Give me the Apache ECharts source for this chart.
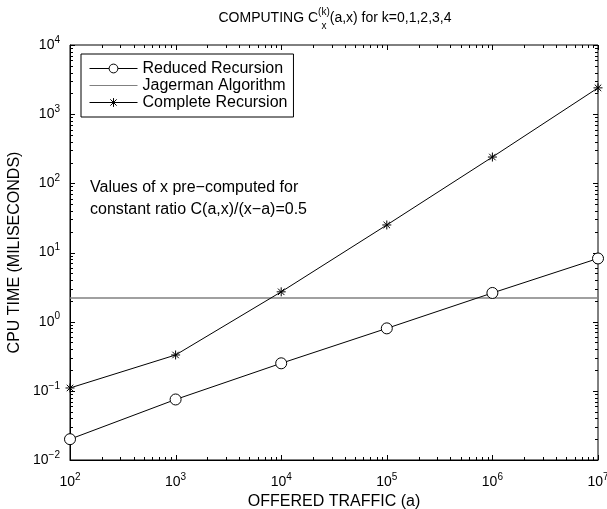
<!DOCTYPE html>
<html>
<head>
<meta charset="utf-8">
<script src="https://cdn.jsdelivr.net/npm/echarts@6/dist/echarts.min.js"></script>
<style>html,body{margin:0;padding:0;background:#fff}#c{width:607px;height:509px}</style>
</head>
<body>
<div id="c"></div>
<script>
// ---- data ----
const traffic = [1e2, 1e3, 1e4, 1e5, 1e6, 1e7];
const reducedRecursion = [0.020, 0.075, 0.25, 0.80, 2.6, 8.2];
const completeRecursion = [0.11, 0.33, 2.7, 25, 240, 2400];
const jagermanTraffic = [1e2, 1e7];
const jagermanValues = [2.2, 2.2];
const seriesNames = ['Reduced Recursion', 'Jagerman Algorithm', 'Complete Recursion'];
const xExponents = [2, 3, 4, 5, 6, 7];
const yExponents = [-2, -1, 0, 1, 2, 3, 4];
const noteLines = ['Values of x pre\u2212computed for', 'constant ratio C(a,x)/(x\u2212a)=0.5'];

const FONT = '"Liberation Sans", Arial, Helvetica, sans-serif';
const chart = echarts.init(document.getElementById('c'), null, {renderer: 'canvas'});

function pairs(xs, ys) { return xs.map((x, i) => [x, ys[i]]); }
function expLabel(v) {
  const e = Math.round(Math.log10(v));
  return '{b|10}{s|' + (e < 0 ? '\u2212' + (-e) : e) + '}';
}
const labelRich = {
  b: {fontSize: 14, fontFamily: FONT, color: '#000'},
  s: {fontSize: 10, fontFamily: FONT, color: '#000', padding: [0, 0, 10, 0]}
};

const asterisk = 'path://M0,-5L0,5M-5,0L5,0M-3.6,-3.6L3.6,3.6M-3.6,3.6L3.6,-3.6';

// measure title pieces
const mc = document.createElement('canvas').getContext('2d');
function tw(t, s) { mc.font = s + 'px ' + FONT; return mc.measureText(t).width; }
const t1 = 'COMPUTING C', t2 = '(k)', t3 = '(a,x) for k=0,1,2,3,4';
const TS = 14, TSS = 10;
const w1 = tw(t1, TS), w2 = tw(t2, TSS), w3 = tw(t3, TS);
const tStart = 335 - (w1 + w2 + w3) / 2;

function tickRender(params, api) {
  const cs = params.coordSys;
  const left = cs.x, right = cs.x + cs.width, top = cs.y, bottom = cs.y + cs.height;
  const ch = [];
  const st = {stroke: '#000', lineWidth: 1};
  const xMin = Math.pow(10, xExponents[0]), yMin = Math.pow(10, yExponents[0]);
  for (let i = 0; i < xExponents.length; i++) {
    const base = Math.pow(10, xExponents[i]);
    for (let m = 1; m <= 9; m++) {
      if (m > 1 && i === xExponents.length - 1) break;
      const px = Math.round(api.coord([base * m, yMin])[0]) + 0.5;
      const L = m === 1 ? 5 : 3;
      ch.push({type: 'line', shape: {x1: px, y1: bottom, x2: px, y2: bottom - L}, style: st});
      ch.push({type: 'line', shape: {x1: px, y1: top, x2: px, y2: top + L}, style: st});
    }
  }
  for (let i = 0; i < yExponents.length; i++) {
    const base = Math.pow(10, yExponents[i]);
    for (let m = 1; m <= 9; m++) {
      if (m > 1 && i === yExponents.length - 1) break;
      const py = Math.round(api.coord([xMin, base * m])[1]) + 0.5;
      const L = m === 1 ? 5 : 3;
      ch.push({type: 'line', shape: {x1: left, y1: py, x2: left + L, y2: py}, style: st});
      ch.push({type: 'line', shape: {x1: right, y1: py, x2: right - L, y2: py}, style: st});
    }
  }
  return {type: 'group', children: ch};
}

const option = {
  animation: false,
  backgroundColor: '#fff',
  textStyle: {fontFamily: FONT},
  grid: {left: 70, right: 9, top: 45, bottom: 49, show: true, borderColor: '#000', borderWidth: 1,
         backgroundColor: 'transparent', containLabel: false, outerBoundsMode: 'none'},
  xAxis: {
    type: 'log', logBase: 10, min: 1e2, max: 1e7,
    name: 'OFFERED TRAFFIC (a)', nameLocation: 'middle', nameGap: 30,
    nameTextStyle: {fontSize: 16, fontFamily: FONT, color: '#000'},
    axisLine: {show: true, lineStyle: {color: '#000', width: 1}},
    axisTick: {show: false}, splitLine: {show: false},
    axisLabel: {formatter: expLabel, rich: labelRich, margin: 12, hideOverlap: false}
  },
  yAxis: {
    type: 'log', logBase: 10, min: 1e-2, max: 1e4,
    name: 'CPU TIME (MILISECONDS)', nameLocation: 'middle', nameGap: 43, nameRotate: 90,
    nameTextStyle: {fontSize: 16, fontFamily: FONT, color: '#000'},
    axisLine: {show: true, lineStyle: {color: '#000', width: 1}},
    axisTick: {show: false}, splitLine: {show: false},
    axisLabel: {formatter: expLabel, rich: labelRich, margin: 10, hideOverlap: false}
  },
  legend: {
    data: [
      {name: seriesNames[0]},
      {name: seriesNames[1], itemStyle: {opacity: 0}},
      {name: seriesNames[2]}
    ],
    orient: 'vertical', left: 81, top: 54,
    backgroundColor: '#fff', borderColor: '#000', borderWidth: 1,
    padding: [6, 6, 6, 8], itemGap: 0, itemWidth: 48, itemHeight: 11,
    lineStyle: {width: 1},
    itemStyle: {borderWidth: 1},
    textStyle: {fontSize: 16, fontFamily: FONT, color: '#000', lineHeight: 17},
    selectedMode: false
  },
  graphic: [
    {type: 'text', x: tStart, y: 18, style: {text: t1, font: TS + 'px ' + FONT, fill: '#000', textVerticalAlign: 'middle'}},
    {type: 'text', x: tStart + w1, y: 12, style: {text: t2, font: TSS + 'px ' + FONT, fill: '#000', textVerticalAlign: 'middle'}},
    {type: 'text', x: tStart + w1 + w2 / 2, y: 26, style: {text: 'x', font: TSS + 'px ' + FONT, fill: '#000', textAlign: 'center', textVerticalAlign: 'middle'}},
    {type: 'text', x: tStart + w1 + w2, y: 18, style: {text: t3, font: TS + 'px ' + FONT, fill: '#000', textVerticalAlign: 'middle'}},
    {type: 'text', x: 90, y: 188, style: {text: noteLines[0], font: '16px ' + FONT, fill: '#000', textVerticalAlign: 'middle'}},
    {type: 'text', x: 90, y: 210, style: {text: noteLines[1], font: '16px ' + FONT, fill: '#000', textVerticalAlign: 'middle'}}
  ],
  series: [
    {
      name: seriesNames[0], type: 'line', data: pairs(traffic, reducedRecursion),
      symbol: 'circle', symbolSize: 11, showAllSymbol: true,
      lineStyle: {color: '#000', width: 1}, itemStyle: {color: '#fff', borderColor: '#000', borderWidth: 1},
      clip: false, z: 3
    },
    {
      name: seriesNames[1], type: 'line', data: pairs(jagermanTraffic, jagermanValues),
      symbol: 'none', lineStyle: {color: '#808080', width: 1.5}, itemStyle: {color: '#808080'}, z: 2
    },
    {
      name: seriesNames[2], type: 'line', data: pairs(traffic, completeRecursion),
      symbol: asterisk, symbolSize: 9, showAllSymbol: true,
      lineStyle: {color: '#000', width: 1}, itemStyle: {color: 'none', borderColor: '#000', borderWidth: 1},
      clip: false, z: 3
    },
    {
      type: 'custom', data: [[1e2, 1e-2]], renderItem: tickRender, silent: true, z: 1, clip: false
    }
  ]
};
chart.setOption(option);
</script>
</body>
</html>
